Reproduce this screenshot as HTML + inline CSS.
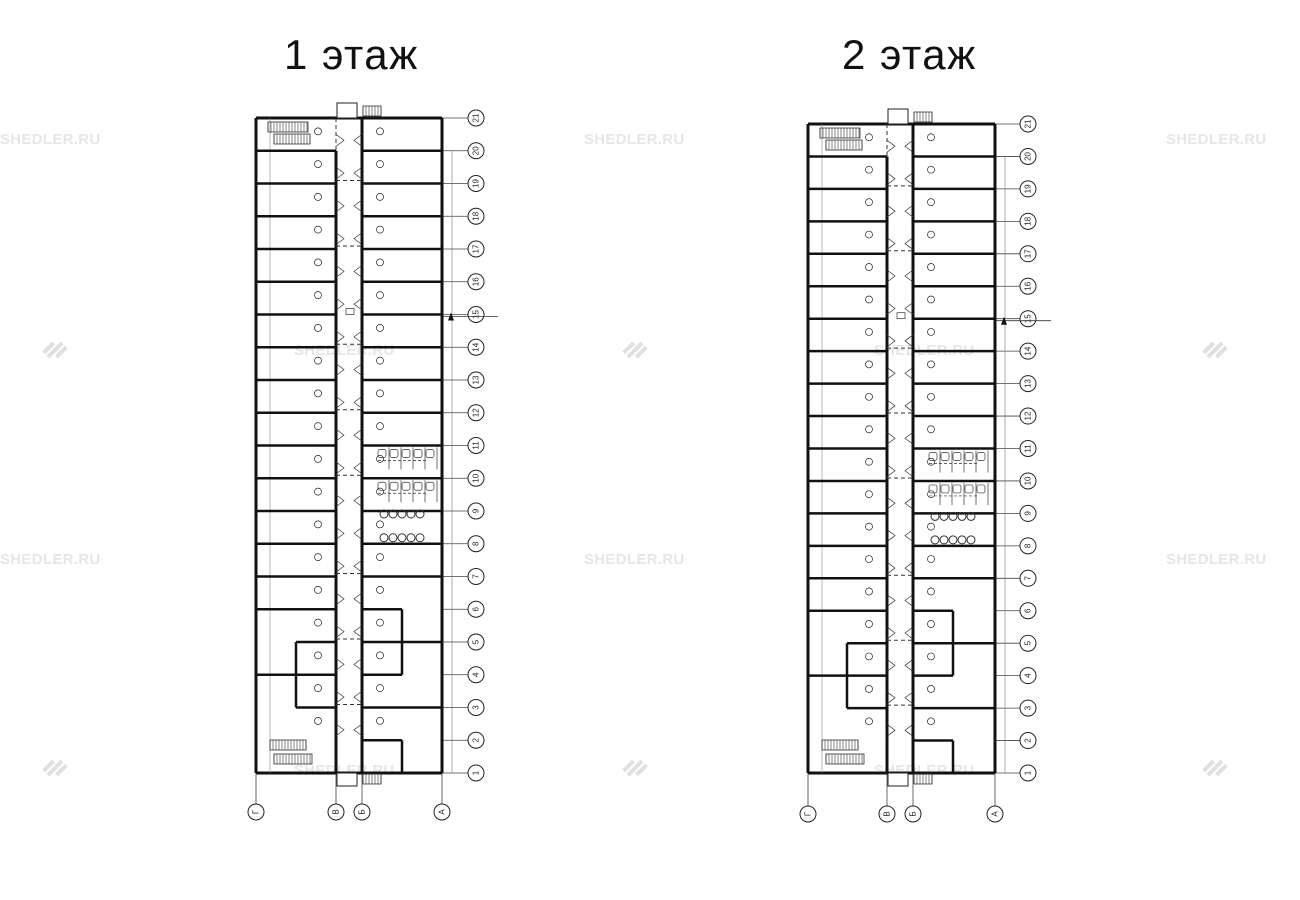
<!DOCTYPE html>
<html><head><meta charset="utf-8">
<style>
html,body{margin:0;padding:0;background:#fff;}
body{width:1300px;height:900px;position:relative;overflow:hidden;font-family:"Liberation Sans","Noto Sans CJK SC",sans-serif;}
.t{position:absolute;font-size:42px;color:#111;top:31px;letter-spacing:1.5px;}
.wm{position:absolute;color:#e6e6e6;font-size:15px;font-weight:bold;letter-spacing:0.3px;}
svg{position:absolute;left:0;top:0;}
</style></head><body>
<div class="t" style="left:284px">1 этаж</div>
<div class="t" style="left:842px">2 этаж</div>
<div class="wm" style="left:0;top:131px">SHEDLER.RU</div>
<div class="wm" style="left:584px;top:131px">SHEDLER.RU</div>
<div class="wm" style="left:1166px;top:131px">SHEDLER.RU</div>
<div class="wm" style="left:0;top:551px">SHEDLER.RU</div>
<div class="wm" style="left:584px;top:551px">SHEDLER.RU</div>
<div class="wm" style="left:1166px;top:551px">SHEDLER.RU</div>
<div class="wm" style="left:294px;top:342px">SHEDLER.RU</div>
<div class="wm" style="left:874px;top:342px">SHEDLER.RU</div>
<div class="wm" style="left:294px;top:762px">SHEDLER.RU</div>
<div class="wm" style="left:874px;top:762px">SHEDLER.RU</div>
<svg id="s" width="1300" height="900" xmlns="http://www.w3.org/2000/svg"></svg>
<script>
var s=document.getElementById('s'),h='';
function L(x1,y1,x2,y2,w,c,d){h+='<line x1="'+x1+'" y1="'+y1+'" x2="'+x2+'" y2="'+y2+'" stroke="'+(c||'#111')+'" stroke-width="'+(w||1)+'"'+(d?' stroke-dasharray="'+d+'"':'')+'/>';}
function C(x,y,r,w){h+='<circle cx="'+x+'" cy="'+y+'" r="'+r+'" fill="#fff" stroke="#222" stroke-width="'+(w||1)+'"/>';}
function T(x,y,t,sz,rot){h+='<text x="'+x+'" y="'+y+'" font-size="'+sz+'" text-anchor="middle" dominant-baseline="central" font-family="Liberation Sans" fill="#222"'+(rot?' transform="rotate(-90 '+x+' '+y+')"':'')+'>'+t+'</text>';}
function logo(x,y){h+='<g transform="translate('+x+','+y+') rotate(-45)" fill="none" stroke="#e0e0e0" stroke-width="4"><path d="M-10,-6 h14 M-10,0 h20 M-4,6 h14"/></g>';}
[[55,350],[635,350],[1215,350],[55,768],[635,768],[1215,768]].forEach(function(p){logo(p[0],p[1]);});
function floor(xG,xV,xB,xA,yTop,yBot,cx,cy){
 var st=(yBot-yTop)/20;function Y(n){return yBot-(n-1)*st;}
 for(var n=1;n<=21;n++){var y=Y(n);L(xA,y,cx-8,y,0.8,'#444');C(cx,y,8,1);T(cx,y,n,8,true);}
 L(xA+10,Y(20),xA+10,yBot,0.6,'#777');
 L(xA,Y(15)+2,xA+56,Y(15)+2,0.8,'#333');h+='<path d="M'+(xA+6)+','+(Y(15)+6)+' l3,-8 l3,8z" fill="#111"/>';
 [[xG,'Г'],[xV,'В'],[xB,'Б'],[xA,'А']].forEach(function(a){L(a[0],yBot,a[0],cy-8,0.8,'#444');C(a[0],cy,8,1);T(a[0],cy,a[1],8,true);});
 L(xG,yTop,xA,yTop,3);L(xG,yBot,xA,yBot,3);L(xG,yTop,xG,yBot,3);L(xA,yTop,xA,yBot,3);
 L(xV,Y(20),xV,yBot,3);L(xB,yTop,xB,yBot,3);
 L(xV,yTop,xV,Y(20),1,'#333','4,3');
 L(xG+14,yTop,xG+14,yBot,0.6,'#888');
 for(var n=6;n<=20;n++)L(xG,Y(n),xV,Y(n),2.5);
 L(xG,Y(4),xV,Y(4),2.5);
 var bx=xV-40;L(bx,Y(5),xV,Y(5),2.5);L(bx,Y(5),bx,Y(3),2.5);L(bx,Y(3),xV,Y(3),2.5);
 for(var n=7;n<=20;n++)L(xB,Y(n),xA,Y(n),2.5);
 var rx=xB+40;L(xB,Y(6),rx,Y(6),2.5);L(rx,Y(6),rx,Y(4),2.5);L(xB,Y(4),rx,Y(4),2.5);L(xB,Y(5),xA,Y(5),2.5);L(xB,Y(3),xA,Y(3),2.5);
 L(xB,Y(2),rx,Y(2),2.5);L(rx,Y(2),rx,yBot,2.5);
 [19,17,14,12,10,7,5,3].forEach(function(n){L(xV,Y(n)-3,xB,Y(n)-3,1,'#333','4,3');});
 for(var n=2;n<=20;n++){C(xV-18,(Y(n)+Y(n+1))/2-3,3.5,0.7);C(xB+18,(Y(n)+Y(n+1))/2-3,3.5,0.7);
  var yc=(Y(n)+Y(n+1))/2+6;h+='<path d="M'+xV+','+(yc-6)+' l8,6 l-8,6" fill="none" stroke="#333" stroke-width="0.7"/><path d="M'+xB+','+(yc-6)+' l-8,6 l8,6" fill="none" stroke="#333" stroke-width="0.7"/>';}
 function stairs(x,y,w,hh){for(var i=0;i<=w;i+=3)L(x+i,y,x+i,y+hh,0.6,'#333');h+='<rect x="'+x+'" y="'+y+'" width="'+w+'" height="'+hh+'" fill="none" stroke="#333" stroke-width="0.8"/>';}
 stairs(xG+12,yTop+4,40,10);stairs(xG+18,yTop+16,36,10);
 stairs(xG+14,yBot-33,36,10);stairs(xG+18,yBot-19,38,10);
 h+='<rect x="'+(xV+1)+'" y="'+(yTop-15)+'" width="20" height="15" fill="#fff" stroke="#222" stroke-width="1"/>';stairs(xB+1,yTop-12,18,10);
 h+='<rect x="'+(xV+1)+'" y="'+yBot+'" width="20" height="13" fill="#fff" stroke="#222" stroke-width="1"/>';stairs(xB+1,yBot+1,18,10);
 [11,10].forEach(function(n){var y0=Y(n)+2;for(var i=0;i<5;i++){var x=xB+16+i*12;h+='<rect x="'+x+'" y="'+(y0+2)+'" width="8" height="8" rx="2" fill="none" stroke="#333" stroke-width="0.7"/>';L(x+11,y0,x+11,y0+22,0.7,'#333');}L(xB+16,y0+13,xA-16,y0+13,0.7,'#333','3,2');});
 [9,8].forEach(function(n){var y0=Y(n)-(n==9?-3:6);for(var i=0;i<5;i++)h+='<circle cx="'+(xB+22+i*9)+'" cy="'+y0+'" r="4" fill="none" stroke="#333" stroke-width="1"/>';});
 h+='<rect x="'+(xV+10)+'" y="'+(Y(15)-6)+'" width="8" height="6" fill="none" stroke="#333" stroke-width="0.7"/>';
}
floor(256,336,362,442,118,773,476,812);
floor(808,887,913,995,124,773,1028,814);
s.innerHTML=h;
</script>
</body></html>
